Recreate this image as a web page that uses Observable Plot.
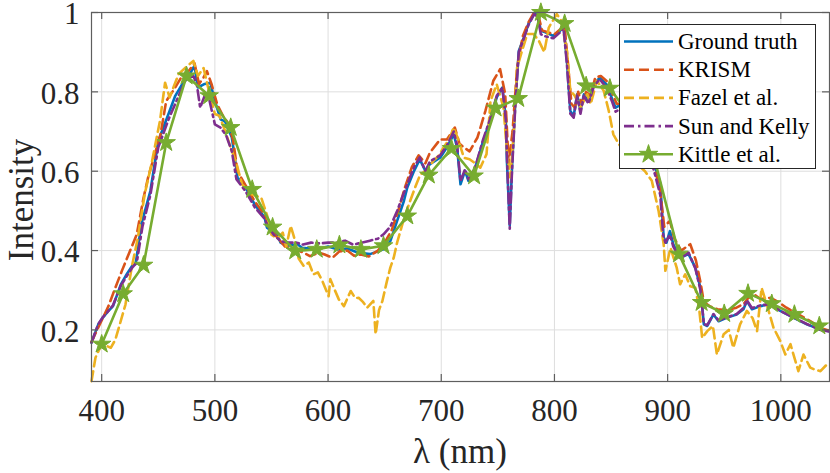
<!DOCTYPE html>
<html><head><meta charset="utf-8">
<script src="https://cdn.jsdelivr.net/npm/d3@7"></script>
<script src="https://cdn.jsdelivr.net/npm/@observablehq/plot@0.6"></script>
<style>body{margin:0;background:#fff}</style>
</head><body><div id="chart"></div>
<script>
// ---------- data ----------
const seriesNames = ["Ground truth", "KRISM", "Fazel et al.", "Sun and Kelly", "Kittle et al."];
const seriesColors = ["#0072BD", "#D95319", "#EDB120", "#7E2F8E", "#77AC30"];
const xTicks = [400, 500, 600, 700, 800, 900, 1000];
const yTicks = [0.2, 0.4, 0.6, 0.8, 1];

const gtWl = [391,397,401,405,410,417,422,427,430,435,443,450,459,465,471,477,482,485,491,496,500,505,509,515,518,520,527,535,544,546,555,558,564,573,577,584,593,600,608,617,626,637,649,655,661,667,670,676,681,686,690,699,705,711,714,717,721,724,730,737,743,749,754,757,758,760.5,762.5,765.5,768.5,773,777,782,785,788,792,799,805,808,811,814,817,820,823,826,830,835,840,846,851,854,860,866,872,878,884,889,893.5,896.5,899,902,905,911,918.5,924.5,929,932,935,940.5,945,952.5,961,967,970,974.5,982,990.5,999.5,1011,1023,1035,1043];
const gtVal = [0.168,0.214,0.231,0.245,0.26,0.315,0.34,0.362,0.366,0.466,0.55,0.676,0.744,0.79,0.819,0.84,0.866,0.811,0.82,0.823,0.777,0.731,0.725,0.685,0.626,0.584,0.559,0.517,0.483,0.458,0.441,0.42,0.412,0.416,0.407,0.405,0.405,0.41,0.403,0.405,0.395,0.391,0.403,0.424,0.475,0.525,0.559,0.601,0.63,0.601,0.618,0.634,0.66,0.693,0.66,0.567,0.601,0.576,0.609,0.676,0.727,0.786,0.811,0.735,0.626,0.463,0.609,0.777,0.903,0.937,0.971,0.996,0.996,0.954,0.95,0.941,0.954,0.966,0.878,0.752,0.739,0.794,0.752,0.794,0.777,0.819,0.836,0.819,0.782,0.76,0.77,0.75,0.72,0.69,0.65,0.61,0.57,0.433,0.42,0.449,0.416,0.382,0.391,0.357,0.306,0.214,0.21,0.239,0.222,0.231,0.239,0.252,0.273,0.252,0.26,0.265,0.248,0.231,0.214,0.201,0.197];

const krWl = [391,396,401,406,412,418,425,431,437,441,446,452,457,465,471,477,482,486,490,493,497,502,507,512,516,520,527,535,544,550,556,562,570,578,584,592,597,604,610,617,623,629,636,644,650,656,662,668,674,680,686,690,699,705,712,716,720,725,732,739,746,752,756.5,759.5,763,767,772,777,782,786,789,794,800,806,809,812,815,818,821,824,828,832,836,841,847,852,855,862,870,878,886,893,897,902,906,912,920,925,929,932,937,944,952,960,967,971,976,982,991,998,1005,1015,1026,1037,1043];
const krVal = [0.17,0.2,0.23,0.26,0.306,0.35,0.399,0.441,0.533,0.584,0.634,0.693,0.777,0.811,0.84,0.853,0.872,0.82,0.836,0.852,0.82,0.769,0.74,0.72,0.68,0.6,0.565,0.525,0.49,0.45,0.43,0.41,0.405,0.395,0.386,0.395,0.39,0.382,0.398,0.4,0.387,0.39,0.385,0.4,0.42,0.45,0.5,0.56,0.61,0.64,0.62,0.647,0.68,0.68,0.71,0.67,0.66,0.65,0.685,0.752,0.828,0.857,0.794,0.62,0.7,0.861,0.94,0.975,1.0,0.99,0.955,0.95,0.945,0.96,0.965,0.87,0.77,0.76,0.8,0.77,0.8,0.79,0.836,0.84,0.825,0.79,0.77,0.77,0.75,0.7,0.63,0.56,0.46,0.475,0.43,0.4,0.416,0.375,0.32,0.27,0.26,0.252,0.25,0.255,0.265,0.28,0.29,0.278,0.281,0.27,0.256,0.24,0.222,0.203,0.198];

const fzWl = [391,394.5,400,404,408,412,416,421,426.5,432,438,444,451.5,456,460,468,474,481,485,490,494,500,504,509,515,519,524,532.5,541,546,550,555,560,563,567,570,574,578.5,583,587,591,595,600.5,602,606,609.5,614,620,624,627,631,634.5,640,642,645,648,652,655,658,661,667,672.5,677,681.5,686,693,698,702,707,711,715,720,725,730,734.5,740,743.5,749,755,758,761,764,767,771,776,781.5,786,789,791,795,802,806,811,814,818,823,829,832,837.5,843.5,848,852,857,864,872,880,886,892,896.5,898,902.5,908,911,915.5,920,924.5,928,930.5,935,940,943.5,949.5,954,958,964,970,975,979,983,988,993.5,999.5,1004,1008.5,1015.5,1020,1026,1030,1035,1042];
const fzVal = [0.071,0.13,0.164,0.16,0.155,0.175,0.214,0.264,0.357,0.433,0.542,0.618,0.727,0.823,0.786,0.845,0.861,0.878,0.84,0.86,0.811,0.744,0.74,0.702,0.651,0.62,0.567,0.542,0.533,0.49,0.44,0.43,0.445,0.41,0.462,0.433,0.38,0.361,0.37,0.34,0.345,0.323,0.285,0.328,0.3,0.277,0.26,0.298,0.28,0.281,0.27,0.256,0.273,0.189,0.25,0.273,0.323,0.357,0.382,0.42,0.48,0.525,0.56,0.592,0.6,0.626,0.64,0.66,0.68,0.71,0.68,0.634,0.63,0.62,0.609,0.643,0.777,0.819,0.76,0.651,0.584,0.693,0.861,0.9,0.946,0.946,0.93,0.912,0.9,0.962,0.996,0.98,0.903,0.803,0.79,0.76,0.794,0.769,0.828,0.803,0.752,0.693,0.668,0.64,0.62,0.6,0.576,0.5,0.416,0.349,0.407,0.357,0.315,0.34,0.31,0.306,0.25,0.18,0.197,0.21,0.138,0.189,0.2,0.155,0.214,0.248,0.23,0.197,0.306,0.26,0.206,0.172,0.138,0.164,0.096,0.138,0.105,0.1,0.096,0.117];

const skWl = [391,397,401,405,410,417,422,427,431,436,443,450,459,465,471,475,481,484,487,491,494,500,505,510,515,519,527,535,544,547,552,558,565,572,578,585,592,600,608,615,622,630,637,644,649,655,661,667,671,676,681,686,690,699,705,711,714,717,721,724,730,737,743,749,754,757,758.5,760.5,762.5,765.5,768.5,773,777,782,785,788,792,799,805,808,811,814,817,820,823,826,830,835,840,846,851,854,860,866,872,878,884,889,893.5,896,898,902,905,911,918.5,924.5,929,932,935,940.5,945,952.5,961,967,970,974.5,982,990.5,999.5,1011,1023,1035,1043];
const skVal = [0.168,0.215,0.232,0.245,0.262,0.312,0.335,0.357,0.37,0.46,0.54,0.66,0.73,0.77,0.81,0.836,0.84,0.82,0.76,0.79,0.794,0.718,0.71,0.69,0.65,0.58,0.55,0.51,0.48,0.46,0.44,0.424,0.42,0.42,0.415,0.42,0.418,0.42,0.42,0.425,0.415,0.42,0.425,0.43,0.441,0.46,0.5,0.545,0.575,0.61,0.635,0.6,0.625,0.64,0.665,0.7,0.665,0.575,0.605,0.58,0.61,0.68,0.73,0.79,0.81,0.73,0.6,0.455,0.6,0.77,0.9,0.935,0.968,0.996,0.99,0.945,0.94,0.935,0.95,0.962,0.87,0.745,0.735,0.79,0.745,0.79,0.77,0.815,0.832,0.81,0.775,0.75,0.76,0.74,0.71,0.68,0.64,0.59,0.54,0.44,0.42,0.44,0.41,0.38,0.395,0.355,0.3,0.215,0.212,0.24,0.224,0.232,0.24,0.255,0.275,0.255,0.262,0.265,0.248,0.232,0.215,0.2,0.196];

const ktWl = [400,419,437,457,475,495,514,533,551,571,590,610,629,649,670,689,709,729,748,768,788,809,828,849,869,888,910,930,950,971,992,1012,1034];
const ktVal = [0.164,0.291,0.363,0.672,0.84,0.79,0.71,0.554,0.459,0.399,0.403,0.414,0.403,0.412,0.487,0.59,0.657,0.588,0.759,0.783,1.0,0.972,0.815,0.809,0.73,0.635,0.391,0.269,0.241,0.292,0.266,0.239,0.21];

// ---------- tables ----------
const toRows = (wl, val) => wl.map((w, i) => ({w, v: val[i]}));
const gt = toRows(gtWl, gtVal), kr = toRows(krWl, krVal), fz = toRows(fzWl, fzVal),
      sk = toRows(skWl, skVal), kt = toRows(ktWl, ktVal);

const W = 830, H = 473, mL = 91, mR = 1, mT = 12, mB = 92;
const fw = W - mL - mR, fh = H - mT - mB;
const serif = "'Liberation Serif', 'Times New Roman', serif";
const axisCol = "#5e5e5e", textCol = "#262626";
const lw = 2.6;
const dash = "10,5", dashDot = "10,4,2.5,4";
const starR = 5.8;

const plot = Plot.plot({
  width: W, height: H,
  marginLeft: mL, marginRight: mR, marginTop: mT, marginBottom: mB,
  style: {fontFamily: serif, color: textCol, background: "#fff"},
  x: {domain: [391, 1043]},
  y: {domain: [0.07, 1]},
  marks: [
    Plot.gridX(xTicks, {stroke: "#dedede", strokeOpacity: 1, strokeWidth: 1}),
    Plot.gridY(yTicks, {stroke: "#dedede", strokeOpacity: 1, strokeWidth: 1}),
    Plot.line(gt, {x: "w", y: "v", stroke: seriesColors[0], strokeWidth: lw}),
    Plot.line(kr, {x: "w", y: "v", stroke: seriesColors[1], strokeWidth: lw, strokeDasharray: dash}),
    Plot.line(fz, {x: "w", y: "v", stroke: seriesColors[2], strokeWidth: lw, strokeDasharray: dash}),
    Plot.line(sk, {x: "w", y: "v", stroke: seriesColors[3], strokeWidth: lw, strokeDasharray: dashDot}),
    Plot.line(kt, {x: "w", y: "v", stroke: seriesColors[4], strokeWidth: lw}),
    Plot.dot(kt, {x: "w", y: "v", symbol: "star", r: starR, fill: seriesColors[4], stroke: seriesColors[4], strokeWidth: 1}),
    Plot.frame({stroke: axisCol, strokeWidth: 1.2}),
    Plot.tickX(xTicks, {x: d => d, insetTop: fh - 7, stroke: axisCol, strokeWidth: 1.2}),
    Plot.tickX(xTicks, {x: d => d, insetBottom: fh - 7, stroke: axisCol, strokeWidth: 1.2}),
    Plot.tickY(yTicks, {y: d => d, insetRight: fw - 7, stroke: axisCol, strokeWidth: 1.2}),
    Plot.tickY(yTicks, {y: d => d, insetLeft: fw - 7, stroke: axisCol, strokeWidth: 1.2}),
    Plot.axisX({ticks: xTicks, tickSize: 0, tickPadding: 17, fontSize: 31, label: null, tickFormat: d => String(d)}),
    Plot.axisY({ticks: yTicks, tickSize: 0, tickPadding: 12, fontSize: 31, dy: 2, label: null, tickFormat: d => String(d)})
  ]
});

// axis titles and legend, added into the same SVG
const svg = d3.select(plot);
svg.append("text").attr("transform", "translate(33,200) rotate(-90)")
  .attr("text-anchor", "middle").attr("font-family", serif).attr("font-size", 35)
  .attr("fill", textCol).text("Intensity");
svg.append("text").attr("x", mL + fw / 2).attr("y", 463)
  .attr("text-anchor", "middle").attr("font-family", serif).attr("font-size", 35)
  .attr("fill", textCol).text("λ (nm)");

const lg = svg.append("g");
lg.append("rect").attr("x", 619.5).attr("y", 24.5).attr("width", 196).attr("height", 144)
  .attr("fill", "#fff").attr("stroke", "#262626").attr("stroke-width", 1);
const dashes = [null, dash, dash, dashDot, null];
seriesNames.forEach((name, i) => {
  const y = 41.5 + i * 28.2;
  const ln = lg.append("line").attr("x1", 624).attr("x2", 673).attr("y1", y).attr("y2", y)
    .attr("stroke", seriesColors[i]).attr("stroke-width", lw);
  if (dashes[i]) ln.attr("stroke-dasharray", dashes[i]);
  if (i === 4) {
    lg.append("path").attr("d", d3.symbol(d3.symbolStar, Math.PI * starR * starR)())
      .attr("transform", `translate(648.5,${y})`).attr("fill", seriesColors[i]).attr("stroke", seriesColors[i]);
  }
  lg.append("text").attr("x", 678).attr("y", y).attr("dy", "0.33em")
    .attr("text-anchor", "start")
    .attr("font-family", serif).attr("font-size", 23).attr("fill", "#000").text(name);
});

document.getElementById("chart").appendChild(plot);
</script>
</body></html>
